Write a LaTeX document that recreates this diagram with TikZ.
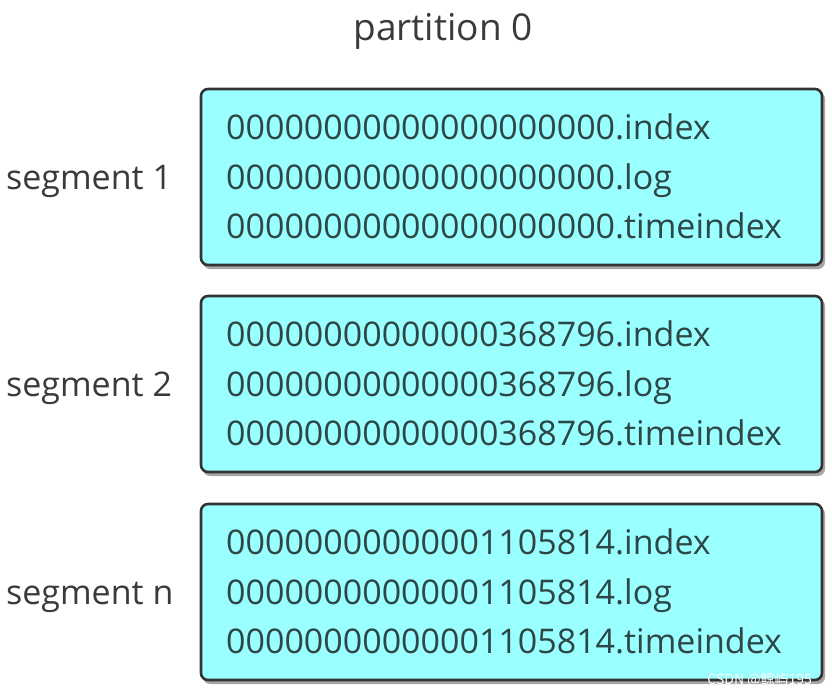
\documentclass[tikz,border=0pt]{standalone}
\usepackage{fontspec}
\setmainfont{Open Sans}
\newfontfamily\cjkfont{Noto Sans CJK SC}
\definecolor{boxfill}{HTML}{99FFFF}
\definecolor{boxline}{HTML}{333333}
\definecolor{txt}{HTML}{3A3A3A}
\definecolor{intxt}{HTML}{2E4646}
\begin{document}
\begin{tikzpicture}[x=1pt,y=-1pt,
  segbox/.style={draw=boxline,line width=2.6pt,fill=boxfill,rounded corners=7pt},
  segshadow/.style={fill=black!35,rounded corners=7pt},
  fname/.style={anchor=base west,inner sep=0pt,text=intxt,font=\fontsize{34}{38}\selectfont},
  seglabel/.style={anchor=base west,inner sep=0pt,text=txt,font=\fontsize{34}{38}\selectfont}]
\useasboundingbox (0,0) rectangle (832,694);
\node[anchor=base,inner sep=0pt,text=txt,font=\fontsize{37}{40}\selectfont] (title) at (443,40) {partition 0};
% shadows
\foreach \t in {89,296,504}{
  \fill[segshadow] (203,\t+3) rectangle (825,\t+180);
}
\draw[segbox] (201,89) rectangle (822,265);
\draw[segbox] (201,296) rectangle (822,472);
\draw[segbox] (201,504) rectangle (822,680);
\node[seglabel] (s1) at (6,189) {segment 1};
\node[seglabel] (s2) at (6,396) {segment 2};
\node[seglabel] (sn) at (6,604) {segment n};
\node[fname] (f11) at (226,139) {00000000000000000000.index};
\node[fname] (f12) at (226,189) {00000000000000000000.log};
\node[fname] (f13) at (226,238) {00000000000000000000.timeindex};
\node[fname] (f21) at (226,346) {00000000000000368796.index};
\node[fname] (f22) at (226,396) {00000000000000368796.log};
\node[fname] (f23) at (226,445) {00000000000000368796.timeindex};
\node[fname] (f31) at (226,554) {00000000000001105814.index};
\node[fname] (f32) at (226,604) {00000000000001105814.log};
\node[fname] (f33) at (226,653) {00000000000001105814.timeindex};
\node[anchor=base east,inner sep=0pt,text=white,font=\cjkfont\fontsize{14}{15}\selectfont] (wm) at (812,684) {CSDN @鲸屿195};
\end{tikzpicture}
\end{document}
